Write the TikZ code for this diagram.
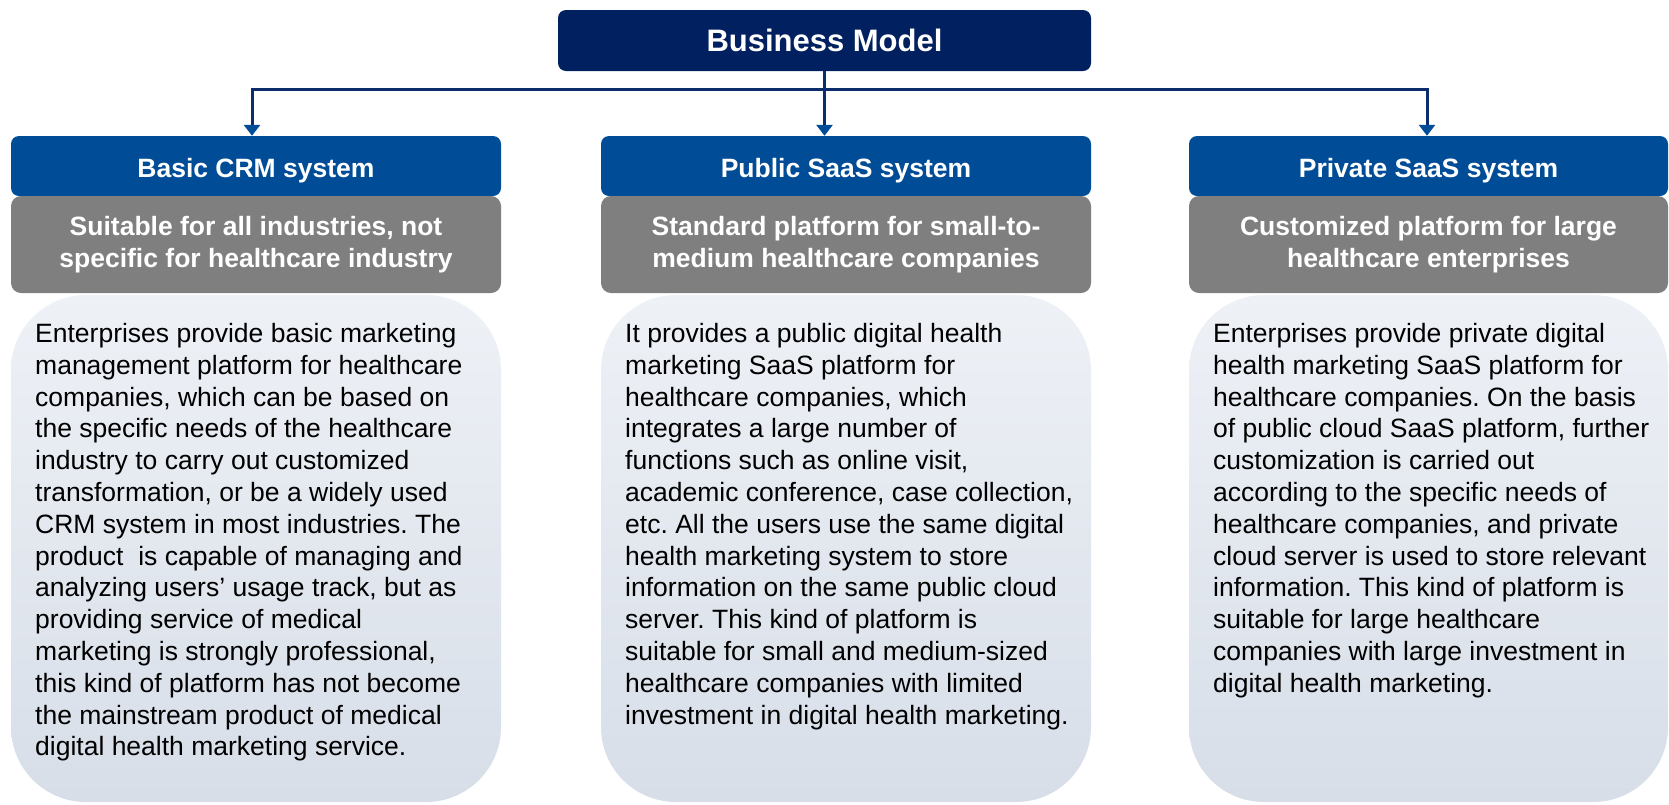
\documentclass[tikz,border=0pt]{standalone}
\usepackage{fontspec}
\setmainfont{Liberation Sans}
\usetikzlibrary{positioning, arrows.meta}
\frenchspacing

\definecolor{modelnavy}{HTML}{002060}
\definecolor{headblue}{HTML}{004C97}
\definecolor{tagGray}{HTML}{7F7F7F}
\definecolor{bodytop}{HTML}{EEF1F6}
\definecolor{bodybot}{HTML}{D7DEE8}
\definecolor{linknavy}{HTML}{0D2C6C}

\begin{document}
\begin{tikzpicture}[x=1pt, y=-1pt,
      model/.style={fill=modelnavy, rounded corners=8pt, text=white, font=\fontsize{31}{37}\selectfont\bfseries, minimum width=533pt, minimum height=61pt, inner sep=0pt},
      head/.style={fill=headblue, rounded corners=8pt, text=white, font=\fontsize{26.5}{31.8}\selectfont\bfseries, text height=24pt, text depth=2pt, minimum height=60pt, inner sep=0pt},
      tag/.style={fill=tagGray, rounded corners=10pt, text=white, align=center, font=\fontsize{26.5}{31.8}\selectfont\bfseries, minimum height=97pt, inner sep=0pt},
      body/.style={top color=bodytop, bottom color=bodybot, rounded corners=75pt, minimum height=507pt, inner sep=0pt},
      txt/.style={anchor=north west, align=left, inner sep=0pt, font=\fontsize{26.5}{31.8}\selectfont},
      link/.style={draw=linknavy, line width=3pt},
      tip/.style={-{Triangle[width=16pt, length=11pt, color=headblue]}}]
    \useasboundingbox (0,0) rectangle (1669,804);
    % --- top of the tree ---
    \node[model] (model) at (824.5,40.5) {Business Model};
    % --- three columns ---
    \node[head, minimum width=490pt] (head1) at (256,166)    {Basic CRM system};
    \node[head, minimum width=490pt] (head2) at (846,166)    {Public SaaS system};
    \node[head, minimum width=479pt] (head3) at (1428.5,166) {Private SaaS system};
    \node[tag, minimum width=490pt] (tag1) at (256,244.5)    {Suitable for all industries, not\\specific for healthcare industry};
    \node[tag, minimum width=490pt] (tag2) at (846,244.5)    {Standard platform for small-to-\\medium healthcare companies};
    \node[tag, minimum width=479pt] (tag3) at (1428.5,244.5) {Customized platform for large\\healthcare enterprises};
    \node[body, minimum width=490pt] (body1) at (256,548.5)    {};
    \node[body, minimum width=490pt] (body2) at (846,548.5)    {};
    \node[body, minimum width=479pt] (body3) at (1428.5,548.5) {};
    \node[txt] (text1) at (35,323) {Enterprises provide basic marketing\\management platform for healthcare\\companies, which can be based on\\the specific needs of the healthcare\\industry to carry out customized\\transformation, or be a widely used\\CRM system in most industries. The\\product\ \ is capable of managing and\\analyzing users’ usage track, but as\\providing service of medical\\marketing is strongly professional,\\this kind of platform has not become\\the mainstream product of medical\\digital health marketing service.};
    \node[txt] (text2) at (625,323) {It provides a public digital health\\marketing SaaS platform for\\healthcare companies, which\\integrates a large number of\\functions such as online visit,\\academic conference, case collection,\\etc. All the users use the same digital\\health marketing system to store\\information on the same public cloud\\server. This kind of platform is\\suitable for small and medium-sized\\healthcare companies with limited\\investment in digital health marketing.};
    \node[txt] (text3) at (1213,323) {Enterprises provide private digital\\health marketing SaaS platform for\\healthcare companies. On the basis\\of public cloud SaaS platform, further\\customization is carried out\\according to the specific needs of\\healthcare companies, and private\\cloud server is used to store relevant\\information. This kind of platform is\\suitable for large healthcare\\companies with large investment in\\digital health marketing.};
    % --- connectors ---
    \coordinate (split) at (824.5,89);
    \draw[link, tip] (model.south) -- (model.south |- head2.north);
    \draw[link, tip] (split) -| ([xshift=-4pt]head1.north);
    \draw[link, tip] (split) -| ([xshift=-1.5pt]head3.north);
\end{tikzpicture}
\end{document}
